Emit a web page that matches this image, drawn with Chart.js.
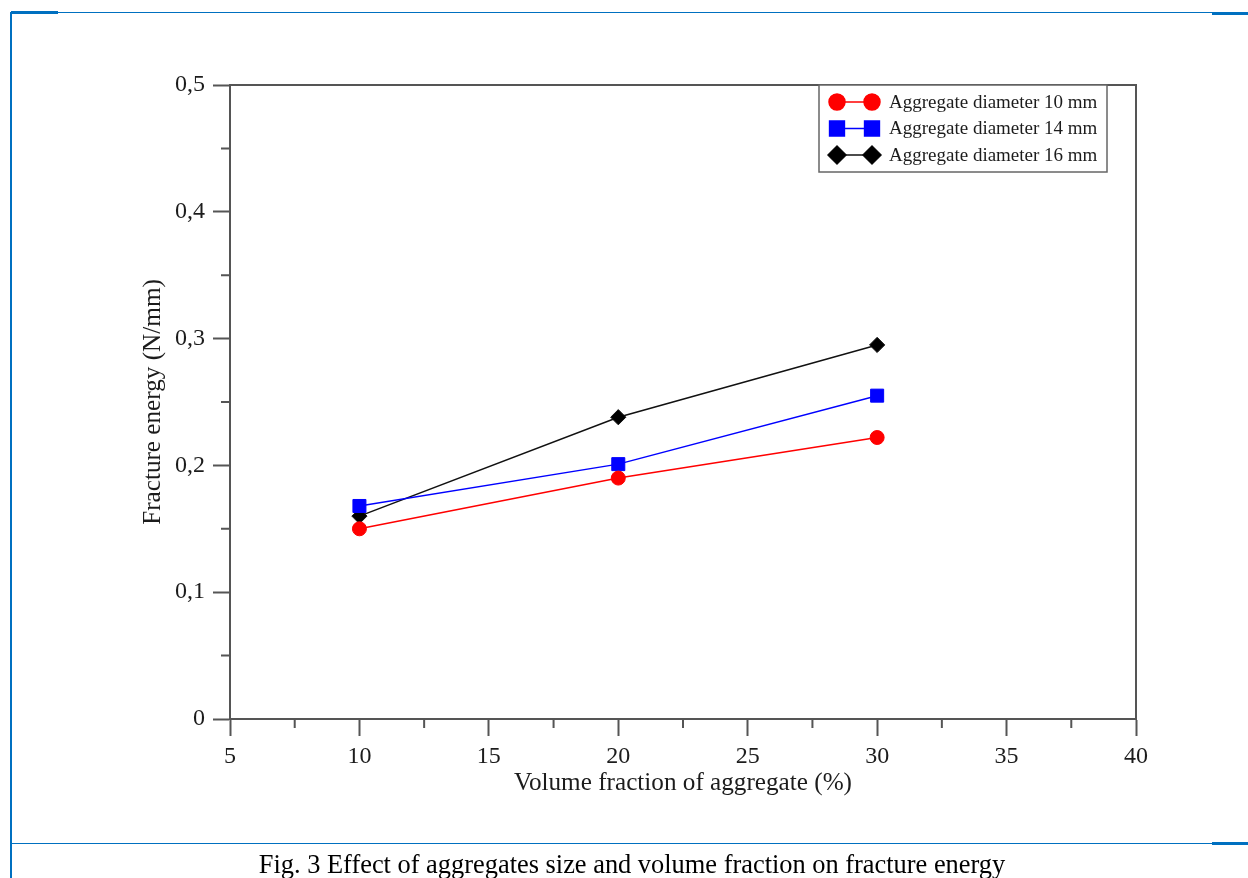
<!DOCTYPE html>
<html lang="en">

<head>
    <meta charset="UTF-8">
    <title>Effect of aggregates size and volume fraction on fracture energy</title>
    <script src="https://cdn.jsdelivr.net/npm/chart.js"></script>
    <style>
        body {
            margin: 0;
            background: #fff;
        }

        #page {
            position: relative;
            width: 1248px;
            height: 878px;
            overflow: hidden;
        }

        #chartBox {
            position: absolute;
            left: 0;
            top: 0;
            width: 1248px;
            height: 840px;
        }

        .rule {
            position: absolute;
            background: #0070c0;
        }

        #caption {
            position: absolute;
            left: 16px;
            width: 1232px;
            top: 851px;
            text-align: center;
            font-family: "Liberation Serif", serif;
            font-size: 26.4px;
            line-height: 26px;
            color: #000;
            white-space: nowrap;
        }
    </style>
</head>

<body>
    <div id="page">
        <div id="chartBox"><canvas id="energyChart" width="1248" height="840"></canvas></div>
        <!-- blue frame around the figure -->
        <div class="rule" style="left:10px; top:12px; width:2px; height:866px;"></div>
        <div class="rule" style="left:11px; top:12px; width:1237px; height:1px;"></div>
        <div class="rule" style="left:11px; top:11px; width:47px; height:3px;"></div>
        <div class="rule" style="left:1212px; top:12px; width:36px; height:3px;"></div>
        <div class="rule" style="left:11px; top:843px; width:1201px; height:1px;"></div>
        <div class="rule" style="left:1212px; top:842px; width:36px; height:3px;"></div>
        <div id="caption">Fig. 3 Effect of aggregates size and volume fraction on fracture energy</div>
    </div>

    <script>
        const volumeFractions = [10, 20, 30];
        const energy10mm = [0.150, 0.190, 0.222];
        const energy14mm = [0.168, 0.201, 0.255];
        const energy16mm = [0.160, 0.238, 0.295];
        const seriesLabels = ['Aggregate diameter 10 mm', 'Aggregate diameter 14 mm', 'Aggregate diameter 16 mm'];
        const xTickLabels = ['5', '10', '15', '20', '25', '30', '35', '40'];
        const yTickLabels = ['0', '0,1', '0,2', '0,3', '0,4', '0,5'];

        const serif = 'Liberation Serif';
        const axisColor = '#555';
        const textColor = '#1c1c1c';

        function toPoints(values) {
            return volumeFractions.map((v, i) => ({ x: v, y: values[i] }));
        }

        // minor ticks halfway between the major ones, plus box on top and right
        const axisBox = {
            id: 'axisBox',
            afterDraw(chart) {
                const { ctx, chartArea: a, scales: { x, y } } = chart;
                ctx.save();
                ctx.strokeStyle = axisColor;
                ctx.lineWidth = 2;
                ctx.beginPath();
                ctx.moveTo(a.left, a.top);
                ctx.lineTo(a.right, a.top);
                ctx.lineTo(a.right, a.bottom);
                ctx.stroke();
                ctx.beginPath();
                for (let i = 0; i < x.ticks.length - 1; i++) {
                    const px = x.getPixelForValue((x.ticks[i].value + x.ticks[i + 1].value) / 2);
                    ctx.moveTo(px, a.bottom);
                    ctx.lineTo(px, a.bottom + 9);
                }
                for (let i = 0; i < y.ticks.length - 1; i++) {
                    const py = y.getPixelForValue((y.ticks[i].value + y.ticks[i + 1].value) / 2);
                    ctx.moveTo(a.left, py);
                    ctx.lineTo(a.left - 9, py);
                }
                ctx.stroke();
                ctx.restore();
            }
        };

        // legend with a marker at both ends of the line sample
        const boxLegend = {
            id: 'boxLegend',
            afterDraw(chart) {
                const { ctx, chartArea: a } = chart;
                const left = 819, top = a.top, width = 288, height = 87;
                const sizes = [8, 10.5, 9];
                ctx.save();
                ctx.fillStyle = '#fff';
                ctx.fillRect(left, top, width, height);
                ctx.strokeStyle = '#666';
                ctx.lineWidth = 1.5;
                ctx.strokeRect(left, top, width, height);
                chart.data.datasets.forEach((ds, i) => {
                    const cy = top + 17 + i * 26.5;
                    ctx.strokeStyle = ds.borderColor;
                    ctx.lineWidth = 1.5;
                    ctx.beginPath();
                    ctx.moveTo(837, cy);
                    ctx.lineTo(872, cy);
                    ctx.stroke();
                    ctx.fillStyle = ds.backgroundColor;
                    [837, 872].forEach(cx => {
                        Chart.helpers.drawPoint(ctx, { pointStyle: ds.pointStyle, radius: sizes[i], borderWidth: 1 }, cx, cy);
                        ctx.fill();
                    });
                    ctx.fillStyle = textColor;
                    ctx.font = '19px "' + serif + '"';
                    ctx.textBaseline = 'middle';
                    ctx.fillText(ds.label, 889, cy + 1);
                });
                ctx.restore();
            }
        };

        const ctx = document.getElementById('energyChart').getContext('2d');
        const energyChart = new Chart(ctx, {
            type: 'scatter',
            data: {
                datasets: [{
                    label: seriesLabels[0],
                    data: toPoints(energy10mm),
                    borderColor: '#ff0000',
                    backgroundColor: '#ff0000',
                    pointStyle: 'circle',
                    pointRadius: 7
                }, {
                    label: seriesLabels[1],
                    data: toPoints(energy14mm),
                    borderColor: '#0000ff',
                    backgroundColor: '#0000ff',
                    pointStyle: 'rect',
                    pointRadius: 9.2
                }, {
                    label: seriesLabels[2],
                    data: toPoints(energy16mm),
                    borderColor: '#111',
                    backgroundColor: '#000',
                    pointStyle: 'rectRot',
                    pointRadius: 7.6
                }]
            },
            options: {
                responsive: false,
                animation: false,
                showLine: true,
                borderWidth: 1.5,
                pointBorderWidth: 1,
                layout: {
                    padding: { top: 85, right: 112, left: 130, bottom: 31 }
                },
                plugins: {
                    legend: { display: false },
                    tooltip: { enabled: false }
                },
                scales: {
                    x: {
                        type: 'linear',
                        min: 5,
                        max: 40,
                        afterFit(scale) { scale.height = 90; },
                        ticks: {
                            stepSize: 5,
                            padding: 6,
                            color: textColor,
                            font: { family: serif, size: 24 },
                            callback: (value, index) => xTickLabels[index]
                        },
                        grid: {
                            drawOnChartArea: false,
                            drawTicks: true,
                            tickLength: 17,
                            tickWidth: 2,
                            tickColor: axisColor
                        },
                        border: { display: true, color: axisColor, width: 2 },
                        title: {
                            display: true,
                            text: 'Volume fraction of aggregate (%)',
                            color: textColor,
                            font: { family: serif, size: 25.2 },
                            padding: { top: 4, bottom: 10 }
                        }
                    },
                    y: {
                        min: 0,
                        max: 0.5,
                        afterFit(scale) { scale.width = 100; },
                        ticks: {
                            stepSize: 0.1,
                            padding: 8,
                            color: textColor,
                            font: { family: serif, size: 24 },
                            callback: (value, index) => yTickLabels[index]
                        },
                        grid: {
                            drawOnChartArea: false,
                            drawTicks: true,
                            tickLength: 17,
                            tickWidth: 2,
                            tickColor: axisColor
                        },
                        border: { display: true, color: axisColor, width: 2 },
                        title: {
                            display: true,
                            text: 'Fracture energy (N/mm)',
                            color: textColor,
                            font: { family: serif, size: 25.2 },
                            padding: { top: 8, bottom: 4 }
                        }
                    }
                }
            },
            plugins: [axisBox, boxLegend]
        });
    </script>
</body>

</html>
